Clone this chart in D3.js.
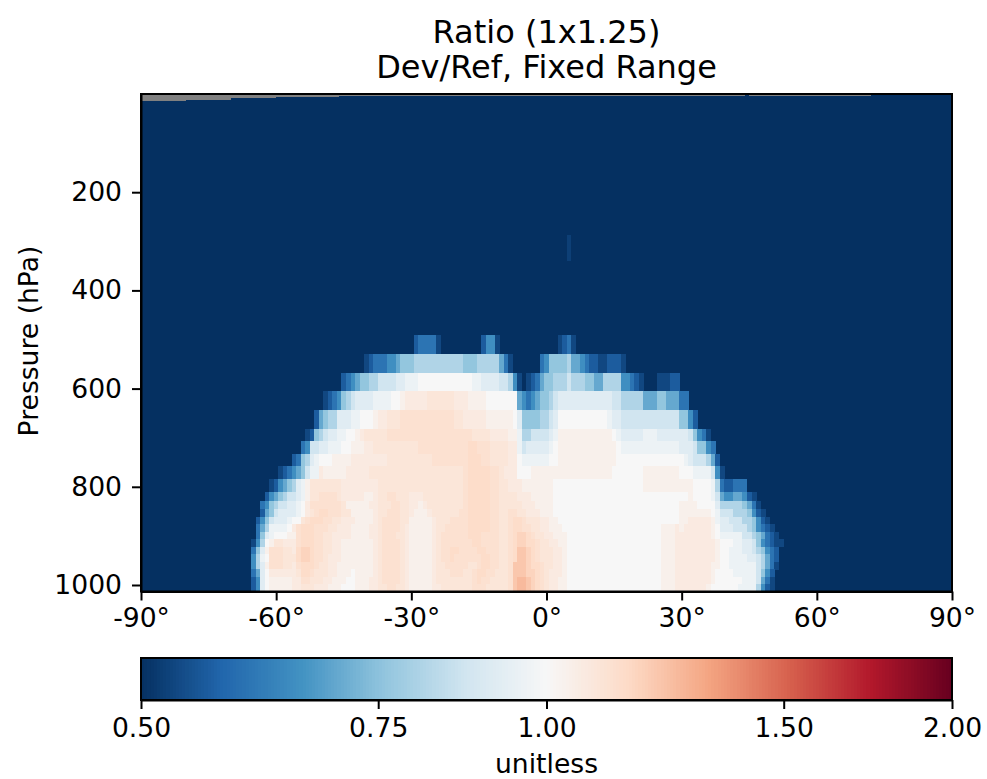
<!DOCTYPE html>
<html>
<head>
<meta charset="utf-8">
<script src="https://cdn.jsdelivr.net/npm/d3@7"></script>
<style>
  html, body { margin: 0; padding: 0; background: white; }
  text { font-family: "DejaVu Sans", sans-serif; fill: black; }
</style>
</head>
<body>
<svg id="chart"></svg>
<script>
// pressure edges of the rows, top row first (hPa)
var pressureEdges = [491.3, 529.4, 567.6, 605.8, 644.0, 682.2, 707.7, 733.2, 758.6, 784.1, 809.6, 829.9,
    845.2, 860.5, 875.8, 891.1, 906.3, 921.6, 936.9, 952.2, 967.5, 982.8, 998.1, 1013.25]

// ratio for every letter used in the rows below
var levelChars = "abcdefghijklmnopqrst".split("")
var levelValues = [0.50, 0.53, 0.56, 0.60, 0.65, 0.70, 0.76, 0.81, 0.87, 0.92, 0.96, 1.00, 1.035, 1.065, 1.09, 1.115, 1.14, 1.17, 1.21, 1.25]

// one string per row, one letter per degree, blocks of ten degrees starting at -70
var rowStart = -70
var rowCells = [
    "aaaaaaaaaa aaaaaaaaaa aaaaaaaaaa aaaaaaaaaa acddddbaaa aaaaaaceeb aaaaaaaaaa aaabcdbaaa",
    "aaaaaaaaaa aaaaaaaaaa aaaaaaaaaa bcdddeefgg ghhhhhhhhh hhggghhhhh fdbaaaaaad egggghffed ccbbcccbaa",
    "aaaaaaaaaa aaaaaaaaaa aaaaacdefg ghhiiiijjk kkllllllll llllkkjjjj iihebabcdf gghhhihhhg gffhhhheed cbaaabbbcc",
    "aaaaaaaaaa aaaaaaaaaa abcdeghijj jjkkkkllmn nnnnoooooo nnnmmmmlll llllfedefg ghijjjjjjj jjjjjiihhh hhfffggfff ddaaaaaaaa",
    "aaaaaaaaaa aaaaaaaaac fghhjjjkkl llmnnooopp pppppppppp oonnnnnmmm mmmljggggh hijlllllll llllkjjiii iiiiiiiiii ggecaaaaaa",
    "aaaaaaaaaa aaaaaaabcg hijjkkllmn oooooppppp pppppppppp ppppoooonn nnmmkhhiii ijkmmmmmmm mmmmmlkjjj jjkkkjjjjj jjigedbaaa",
    "aaaaaaaaaa aaaaaadeii jjkkkllmmm nnoooooooo oopppppppp pppqqpppoo oonnkijjjj jklmmmmmmm mmmmmmlkkk kkkkkkkkkk jjjiggedaa",
    "aaaaaaaaaa aaaacdghjk lllmmmmnnn nnnnnooooo oooooppppp pppqqqppoo oonnlkkkkk kllmmmmmmm mmmmmmllll llllllllll lkjiiihfca",
    "aaaaaaaaaa abcdefgikk nmmmmmnnnn nooooooooo oooooooooo oopqqqqqpp onnnlllmmm mmmmmmmmmm mmmmmlllll llmmmmmmmm lllkkkkieb",
    "aaaaaaaaab cefghjkmoo ooooonnnnn nnnooooooo oooooooooo oopqqqqqpp oonnnmmmmm mmllllllll llllllllll llmmmmmmmm mmmllllkhd ccdddaaaaa",
    "aaaaaaaace fghiijkmoo pppponnnnn mmnooppooo nnnooooooo oopqqqqqpp oooonnnmmm mmllllllll llllllllll llllllllll llmllllkif eeffecbaaa",
    "aaaaaaadeg hiijjklnpp pppppommmm mnnoooppoo nnmnoooooo oopqqqqqpp ooooonnnmm mmllllllll llllllllll llllllllll mmmmlllljh hhhhgfdbaa",
    "aaaaaaacfg ijjjjklnop qqpppoommm mmnoopppoo nmmmnooooo oppqqqqqpp ooppoonnnm mmllllllll llllllllll llllllllll mmmmmmmlki iihhhgecba",
    "aaaaaacegi jjjkllopqq qppoonnnmm mmnoppppoo mmmmmnooop pppqqqqqpp oopqqpooon nmmlllllll llllllllll llllllllll mmnnnnnmkj jiiihhgecb",
    "aaaaaadfhk kkklnpqqqp ppoonnnmmm mnnoppppon mmmmmnoopp pppqqqqqpp oopqqppoon nmmmllllll llllllllll llllllmmmn mnnnnnnmlj jjiiihgedc baaaaaaaaa",
    "aaaaaadgjk lllmmpqqqp poonnnnmmm mnnopppoon mmmmmnoppp pppqqqpppp oopqrrqpoo nnmmmlllll llllllllll llllllmmmn nnnnnnnmlk kkkkiihgfd cbaaaaaaaa",
    "aaaaabehlm oonnnpqqqp poonnmmmmm mmnoppppon mmmmmnoppp ppppqqpppp oopqrrqqpo onnmmlllll llllllllll llllllmmmn nnnnnnnnml llkkjjiged cbbaaaaaaa",
    "aaaaadgjmp ppoonqrrqp poonnmmmmm mmnoppppon mmmmmnoppq qppppqqppp oopqssrqpo oonnmlllll llllllllll llllllmmmn nnnnnnnnml lkkkjjihge dcaaaaaaaa",
    "aaaaaehklp ppoooqrrqp ponnnmmmmm mmnoppppon mmmmmnoppq ppppppqqpp oopqssrqpo oonnmlllll llllllllll llllllmmmn nnnnnnnnml lkkkkjjihf dcaaaaaaaa",
    "aaaaaehjmp ppoonpqqqp oonnmmmmmm mmnoppppon mmmmmnoopp pppoopqqpp oopsssrqqp oonnmlllll llllllllll llllllmmmn nnnnnnnmml lkkkkkkihf dbaaaaaaaa",
    "aaaaadfjln nnnnnoqqpo oonnmmmlmm mmnoppppon mmmmmnooop ppoopqqppo oopsssrrqp onnnmlllll llllllllll llllllmmmn nnnnnnnmll llkkkkkige caaaaaaaaa",
    "aaaaacejlm mmmmnnppoo onnmmmllmm mnnoppppon mmmmmnoooo oooopqppoo oopsttsrqp onnmmlllll llllllllll llllllmmmn nnnnnnnmll llllkkkifd baaaaaaaaa",
    "aaaaacejlm mmmmnnooon nnmmmlllmm mnnooppoon mmmmmnnooo oooopppooo oopsttsrqp onnmmlllll llllllllll llllllmmmn nnnnnnmlll lllkkkkhec baaaaaaaaa"
]

// everything above the rows is below the colour range, apart from one thin streak
var backgroundValue = 0.5
var streakLat = [5]
var streakTop = [288]
var streakBottom = [341]
var streakValue = [0.52]

// missing values along the model top (grey)
var gapLatStart = [-90, -80, -70, -60, -46, 45]
var gapLatEnd = [-80, -70, -60, -46, 44, 72]
var gapBottom = [13.6, 11.3, 7.6, 6.2, 4.1, 3.3]

var xTicks = [-90, -60, -30, 0, 30, 60, 90]
var yTicks = [200, 400, 600, 800, 1000]
var barTicks = [0.5, 0.75, 1, 1.5, 2]
var rdbu = ["#053061", "#2166ac", "#4393c3", "#92c5de", "#d1e5f0", "#f7f7f7", "#fddbc7", "#f4a582", "#d6604d", "#b2182b", "#67001f"]
var titleLines = ["Ratio (1x1.25)", "Dev/Ref, Fixed Range"]

var dimensions = {
    width: 987,
    height: 779,
    plot: { left: 141, right: 952, top: 94, bottom: 591.5 },
    bar: { top: 658, bottom: 700 },
    tickFont: 26.6,
    titleFont: 32
}

var svg = d3.select("#chart")
            .attr("width", dimensions.width)
            .attr("height", dimensions.height)
            .style("display", "block")

var xScale = d3.scaleLinear().domain([-90, 90]).range([dimensions.plot.left, dimensions.plot.right])
var yScale = d3.scaleLinear().domain([0, 1013.25]).range([dimensions.plot.top, dimensions.plot.bottom])
var logScale = d3.scaleLog().domain([0.5, 2]).range([0, 1])
var stopScale = d3.scaleLinear().domain(rdbu.map((c, i) => i / 10)).range(rdbu)
var colorOf = v => stopScale(logScale(v))
var valueOf = {}
levelChars.forEach((c, i) => valueOf[c] = levelValues[i])

// turn the strings into cells
var cells = []
rowCells.forEach(function(row, r) {
    row.split(" ").forEach(function(block, b) {
        block.split("").forEach(function(c, i) {
            if (c != "a") {
                cells.push({ lat: rowStart + b * 10 + i, top: pressureEdges[r], bottom: pressureEdges[r + 1], value: valueOf[c] })
            }
        })
    })
})

var plot = svg.append("g").attr("shape-rendering", "crispEdges")

plot.append("rect")
    .attr("x", xScale(-90))
    .attr("y", yScale(0))
    .attr("width", xScale(90) - xScale(-90))
    .attr("height", yScale(1013.25) - yScale(0))
    .attr("fill", colorOf(backgroundValue))

plot.selectAll(".gap")
    .data(gapLatStart)
    .enter()
    .append("rect")
    .attr("class", "gap")
    .attr("x", d => xScale(d))
    .attr("y", yScale(0))
    .attr("width", (d, i) => xScale(gapLatEnd[i]) - xScale(d))
    .attr("height", (d, i) => yScale(gapBottom[i]) - yScale(0))
    .attr("fill", "#808080")

plot.selectAll(".streak")
    .data(streakLat)
    .enter()
    .append("rect")
    .attr("class", "streak")
    .attr("x", d => xScale(d - 0.5))
    .attr("y", (d, i) => yScale(streakTop[i]))
    .attr("width", xScale(1) - xScale(0))
    .attr("height", (d, i) => yScale(streakBottom[i]) - yScale(streakTop[i]))
    .attr("fill", (d, i) => colorOf(streakValue[i]))

plot.selectAll(".cell")
    .data(cells)
    .enter()
    .append("rect")
    .attr("class", "cell")
    .attr("x", d => xScale(d.lat - 0.5))
    .attr("y", d => yScale(d.top))
    .attr("width", xScale(1) - xScale(0) + 0.5)
    .attr("height", d => yScale(d.bottom) - yScale(d.top) + 0.5)
    .attr("fill", d => colorOf(d.value))

// axes
function styleAxis(g) {
    g.selectAll("path").attr("stroke", "black").attr("stroke-width", 2)
    g.selectAll("line").attr("stroke", "black").attr("stroke-width", 2)
    g.selectAll("text").attr("font-size", dimensions.tickFont)
}

var xAxisGen = d3.axisBottom(xScale).tickValues(xTicks).tickFormat(d => d + "°").tickSizeInner(9).tickSizeOuter(0).tickPadding(8)
svg.append("g")
    .attr("transform", `translate(0,${dimensions.plot.bottom})`)
    .call(xAxisGen)
    .call(styleAxis)

var yAxisGen = d3.axisLeft(yScale).tickValues(yTicks).tickFormat(d3.format("d")).tickSizeInner(9).tickSizeOuter(0).tickPadding(10)
svg.append("g")
    .attr("transform", `translate(${dimensions.plot.left},0)`)
    .call(yAxisGen)
    .call(styleAxis)

svg.append("rect")
    .attr("x", dimensions.plot.left)
    .attr("y", dimensions.plot.top)
    .attr("width", dimensions.plot.right - dimensions.plot.left)
    .attr("height", dimensions.plot.bottom - dimensions.plot.top)
    .attr("fill", "none")
    .attr("stroke", "black")
    .attr("stroke-width", 2)

// colour bar
var barScale = d3.scaleLog().domain([0.5, 2]).range([dimensions.plot.left, dimensions.plot.right])
var steps = d3.range(256)
var barWidth = (dimensions.plot.right - dimensions.plot.left) / 256

svg.append("g")
    .attr("shape-rendering", "crispEdges")
    .selectAll("rect")
    .data(steps)
    .enter()
    .append("rect")
    .attr("x", d => dimensions.plot.left + d * barWidth)
    .attr("y", dimensions.bar.top)
    .attr("width", barWidth + 0.5)
    .attr("height", dimensions.bar.bottom - dimensions.bar.top)
    .attr("fill", d => stopScale((d + 0.5) / 256))

var barAxisGen = d3.axisBottom(barScale).tickValues(barTicks).tickFormat(d3.format(".2f")).tickSizeInner(9).tickSizeOuter(0).tickPadding(9)
svg.append("g")
    .attr("transform", `translate(0,${dimensions.bar.bottom})`)
    .call(barAxisGen)
    .call(styleAxis)

svg.append("rect")
    .attr("x", dimensions.plot.left)
    .attr("y", dimensions.bar.top)
    .attr("width", dimensions.plot.right - dimensions.plot.left)
    .attr("height", dimensions.bar.bottom - dimensions.bar.top)
    .attr("fill", "none")
    .attr("stroke", "black")
    .attr("stroke-width", 2)

// labels
svg.selectAll(".title")
    .data(titleLines)
    .enter()
    .append("text")
    .attr("class", "title")
    .attr("x", (dimensions.plot.left + dimensions.plot.right) / 2)
    .attr("y", (d, i) => 43 + i * 35)
    .attr("text-anchor", "middle")
    .attr("font-size", dimensions.titleFont)
    .text(d => d)

svg.append("text")
    .attr("transform", `translate(38,341) rotate(-90)`)
    .attr("text-anchor", "middle")
    .attr("font-size", dimensions.tickFont)
    .text("Pressure (hPa)")

svg.append("text")
    .attr("x", (dimensions.plot.left + dimensions.plot.right) / 2)
    .attr("y", 772.5)
    .attr("text-anchor", "middle")
    .attr("font-size", dimensions.tickFont)
    .text("unitless")
</script>
</body>
</html>
